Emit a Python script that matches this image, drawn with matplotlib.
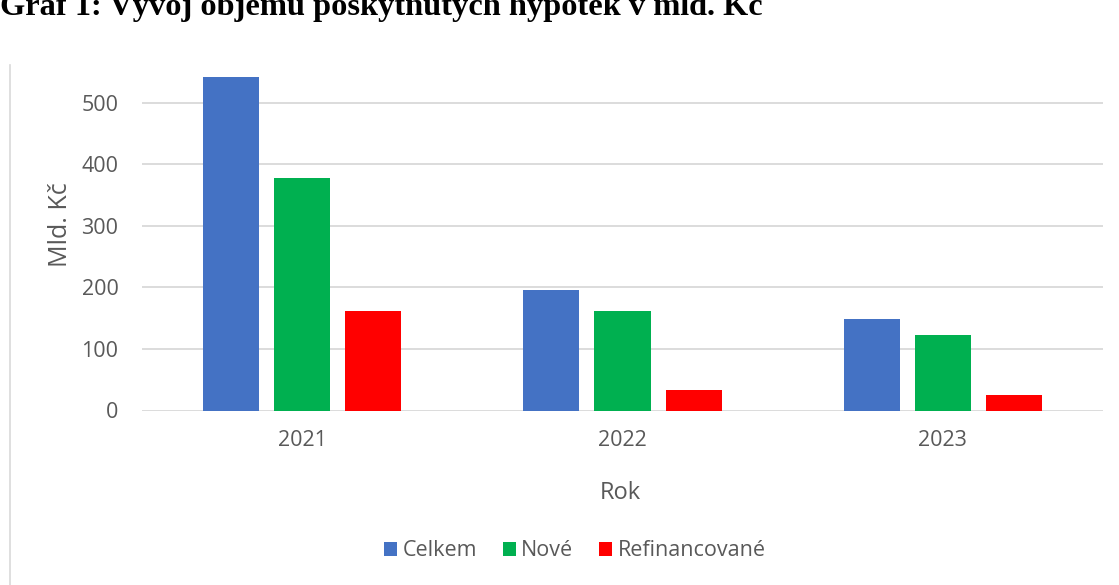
import matplotlib
matplotlib.use("Agg")
import matplotlib.pyplot as plt
from matplotlib.lines import Line2D
import numpy as np

plt.rcParams['font.family'] = ['Open Sans', 'DejaVu Sans']

roky = ["2021", "2022", "2023"]
celkem = [541, 196, 149]
nove = [378, 161, 123]
refinancovane = [161, 34, 25]
serie = ["Celkem", "Nové", "Refinancované"]
barvy = ["#4472C4", "#00B050", "#FF0000"]
y_ticks = [0, 100, 200, 300, 400, 500]

W, H = 1119, 585
fig = plt.figure(figsize=(W / 100, H / 100), dpi=100)
ax = fig.add_axes([142 / W, 1 - 410.5 / H, (1103 - 142) / W, (410.5 - 70) / H])

x = np.arange(len(roky))
sirka = 0.175
krok = 0.222
for i, (hodnoty, nazev, barva) in enumerate(zip([celkem, nove, refinancovane], serie, barvy)):
    ax.bar(x + (i - 1) * krok, hodnoty, width=sirka, color=barva, label=nazev, zorder=3)

ax.set_xlim(-0.5, 2.5)
ax.set_ylim(0, 553)
ax.set_yticks(y_ticks)
ax.set_xticks(x)
ax.set_xticklabels(roky)
ax.grid(axis='y', color='#D9D9D9', linewidth=1.3, zorder=0)
for s in ax.spines.values():
    s.set_visible(False)
ax.tick_params(length=0, labelsize=15.5, colors='#595959')
ax.tick_params(axis='x', pad=14)
ax.tick_params(axis='y', pad=17)

ax.set_ylabel("Mld. Kč", fontsize=18, color='#595959')
ax.yaxis.set_label_coords((73 - 142) / (1103 - 142), (410.5 - 225) / (410.5 - 70))
ax.set_xlabel("Rok", fontsize=17, color='#595959')
ax.xaxis.set_label_coords(0.498, (410.5 - 481) / (410.5 - 70))

leg = fig.legend(loc='center', bbox_to_anchor=(575 / W, 1 - 551 / H), ncol=3, frameon=False,
                 fontsize=15.5, handlelength=0.6, handleheight=0.6, handletextpad=0.25,
                 columnspacing=1.2, labelcolor='#595959')

# title clipped at the top edge, as in the source screenshot
fig.text(0.0, 1 - 15 / H, "Graf 1: Vývoj objemu poskytnutých hypoték v mld. Kč",
         family='Liberation Serif', fontweight='bold', fontsize=23.3, va='baseline', ha='left')

# left border of the chart area
fig.add_artist(Line2D([9.5 / W, 9.5 / W], [0, 1 - 65 / H], color='#D9D9D9', linewidth=1.2))

fig.savefig("out.png", dpi=100)
